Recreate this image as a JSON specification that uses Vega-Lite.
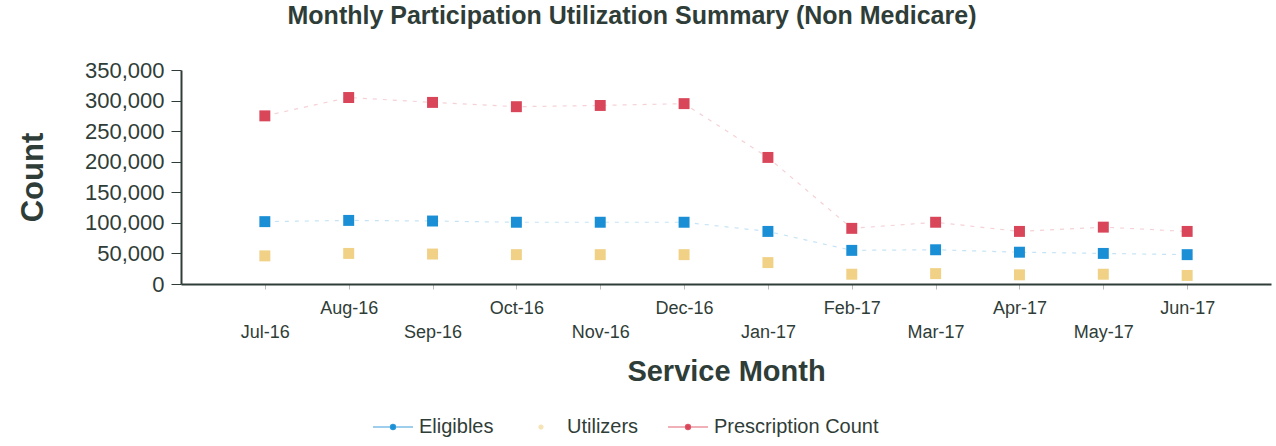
{
  "$schema": "https://vega.github.io/schema/vega-lite/v6.json",
  "autosize": "none",
  "width": 1090,
  "height": 214,
  "padding": {"left": 181, "top": 70, "right": 5, "bottom": 162},
  "background": "white",
  "title": {
    "text": "Monthly Participation Utilization Summary (Non Medicare)",
    "font": "Liberation Sans",
    "fontSize": 25,
    "fontWeight": "bold",
    "color": "#2f3d38",
    "anchor": "middle",
    "dx": -94,
    "offset": 30
  },
  "config": {
    "view": {"stroke": null},
    "font": "Liberation Sans"
  },
  "data": {
    "values": [
      {"month": "Jul-16", "series": "Eligibles", "value": 102000},
      {"month": "Aug-16", "series": "Eligibles", "value": 104000},
      {"month": "Sep-16", "series": "Eligibles", "value": 103000},
      {"month": "Oct-16", "series": "Eligibles", "value": 101000},
      {"month": "Nov-16", "series": "Eligibles", "value": 101000},
      {"month": "Dec-16", "series": "Eligibles", "value": 101000},
      {"month": "Jan-17", "series": "Eligibles", "value": 86000},
      {"month": "Feb-17", "series": "Eligibles", "value": 55000},
      {"month": "Mar-17", "series": "Eligibles", "value": 56000},
      {"month": "Apr-17", "series": "Eligibles", "value": 52000},
      {"month": "May-17", "series": "Eligibles", "value": 50000},
      {"month": "Jun-17", "series": "Eligibles", "value": 48000},
      {"month": "Jul-16", "series": "Utilizers", "value": 46000},
      {"month": "Aug-16", "series": "Utilizers", "value": 50000},
      {"month": "Sep-16", "series": "Utilizers", "value": 49000},
      {"month": "Oct-16", "series": "Utilizers", "value": 48000},
      {"month": "Nov-16", "series": "Utilizers", "value": 48000},
      {"month": "Dec-16", "series": "Utilizers", "value": 48000},
      {"month": "Jan-17", "series": "Utilizers", "value": 35000},
      {"month": "Feb-17", "series": "Utilizers", "value": 16000},
      {"month": "Mar-17", "series": "Utilizers", "value": 17000},
      {"month": "Apr-17", "series": "Utilizers", "value": 15000},
      {"month": "May-17", "series": "Utilizers", "value": 16000},
      {"month": "Jun-17", "series": "Utilizers", "value": 14000},
      {"month": "Jul-16", "series": "Prescription Count", "value": 275000},
      {"month": "Aug-16", "series": "Prescription Count", "value": 305000},
      {"month": "Sep-16", "series": "Prescription Count", "value": 297000},
      {"month": "Oct-16", "series": "Prescription Count", "value": 290000},
      {"month": "Nov-16", "series": "Prescription Count", "value": 292000},
      {"month": "Dec-16", "series": "Prescription Count", "value": 295000},
      {"month": "Jan-17", "series": "Prescription Count", "value": 207000},
      {"month": "Feb-17", "series": "Prescription Count", "value": 91000},
      {"month": "Mar-17", "series": "Prescription Count", "value": 101000},
      {"month": "Apr-17", "series": "Prescription Count", "value": 86000},
      {"month": "May-17", "series": "Prescription Count", "value": 93000},
      {"month": "Jun-17", "series": "Prescription Count", "value": 86000}
    ]
  },
  "encoding": {
    "x": {
      "field": "month",
      "type": "ordinal",
      "sort": ["Jul-16","Aug-16","Sep-16","Oct-16","Nov-16","Dec-16","Jan-17","Feb-17","Mar-17","Apr-17","May-17","Jun-17"],
      "scale": {"type": "point", "padding": 1},
      "axis": {
        "title": "Service Month",
        "titleFont": "Liberation Sans",
        "titleFontSize": 29,
        "titleFontWeight": "bold",
        "titleColor": "#2f3d38",
        "titleX": 545,
        "titleY": 87,
        "titleBaseline": "middle",
        "titleAlign": "center",
        "labelAngle": 0,
        "labelFont": "Liberation Sans",
        "labelFontSize": 18,
        "labelColor": "#2f3d38",
        "labelBaseline": "top",
        "labelPadding": {
          "condition": {"test": "indexof(['Jul-16','Sep-16','Nov-16','Jan-17','Mar-17','May-17'], datum.value) >= 0", "value": 34},
          "value": 10
        },
        "domainColor": "#2f3d38",
        "domainWidth": 2,
        "tickColor": "#bbbbbb",
        "tickSize": 5,
        "grid": false
      }
    },
    "y": {
      "field": "value",
      "type": "quantitative",
      "scale": {"domain": [0, 350000], "nice": false},
      "axis": {
        "title": "Count",
        "titleFont": "Liberation Sans",
        "titleFontSize": 31,
        "titleFontWeight": "bold",
        "titleColor": "#2f3d38",
        "titleAngle": -90,
        "titleX": -148,
        "titleY": 107,
        "titleAlign": "center",
        "titleBaseline": "middle",
        "values": [0, 50000, 100000, 150000, 200000, 250000, 300000, 350000],
        "format": ",d",
        "labelFont": "Liberation Sans",
        "labelFontSize": 22,
        "labelColor": "#2f3d38",
        "labelPadding": 7,
        "domainColor": "#2f3d38",
        "domainWidth": 2,
        "tickColor": "#2f3d38",
        "tickSize": 10,
        "grid": false
      }
    },
    "color": {
      "field": "series",
      "type": "nominal",
      "sort": ["Eligibles", "Utilizers", "Prescription Count"],
      "scale": {
        "domain": ["Eligibles", "Utilizers", "Prescription Count"],
        "range": ["#1a8fd6", "#f0d186", "#d9465a"]
      }
    }
  },
  "layer": [
    {
      "transform": [{"filter": "datum.series !== 'Utilizers'"}],
      "mark": {"type": "line", "strokeWidth": 1.2, "strokeDash": [4, 6], "opacity": 0.25},
      "encoding": {
        "detail": {"field": "series"}
      }
    },
    {
      "mark": {"type": "point", "shape": "square", "filled": true, "size": 120, "opacity": 1},
      "encoding": {
        "color": {
          "field": "series",
          "type": "nominal",
          "sort": ["Eligibles", "Utilizers", "Prescription Count"],
          "scale": {
            "domain": ["Eligibles", "Utilizers", "Prescription Count"],
            "range": ["#1a8fd6", "#f0d186", "#d9465a"]
          },
          "legend": {
            "title": null,
            "orient": "none",
            "legendX": 191,
            "legendY": 336,
            "direction": "horizontal",
            "symbolType": "M-1,0H1M-0.13,0a0.13,0.13 0 1,0 0.26,0a0.13,0.13 0 1,0 -0.26,0",
            "symbolSize": 1600,
            "symbolStrokeWidth": 1.2,
            "symbolFillColor": null,
            "symbolOpacity": 1,
            "labelFont": "Liberation Sans",
            "labelFontSize": 20,
            "labelColor": "#2f3d38",
            "labelOffset": 5,
            "labelLimit": 400,
            "columnPadding": 26,
            "encode": {
              "symbols": {
                "update": {
                  "opacity": {"value": 1},
                  "strokeOpacity": {"signal": "datum.value === 'Utilizers' ? 0 : 0.85"},
                  "fillOpacity": {"signal": "datum.value === 'Utilizers' ? 0.6 : 1"}
                }
              }
            }
          }
        }
      }
    }
  ]
}
